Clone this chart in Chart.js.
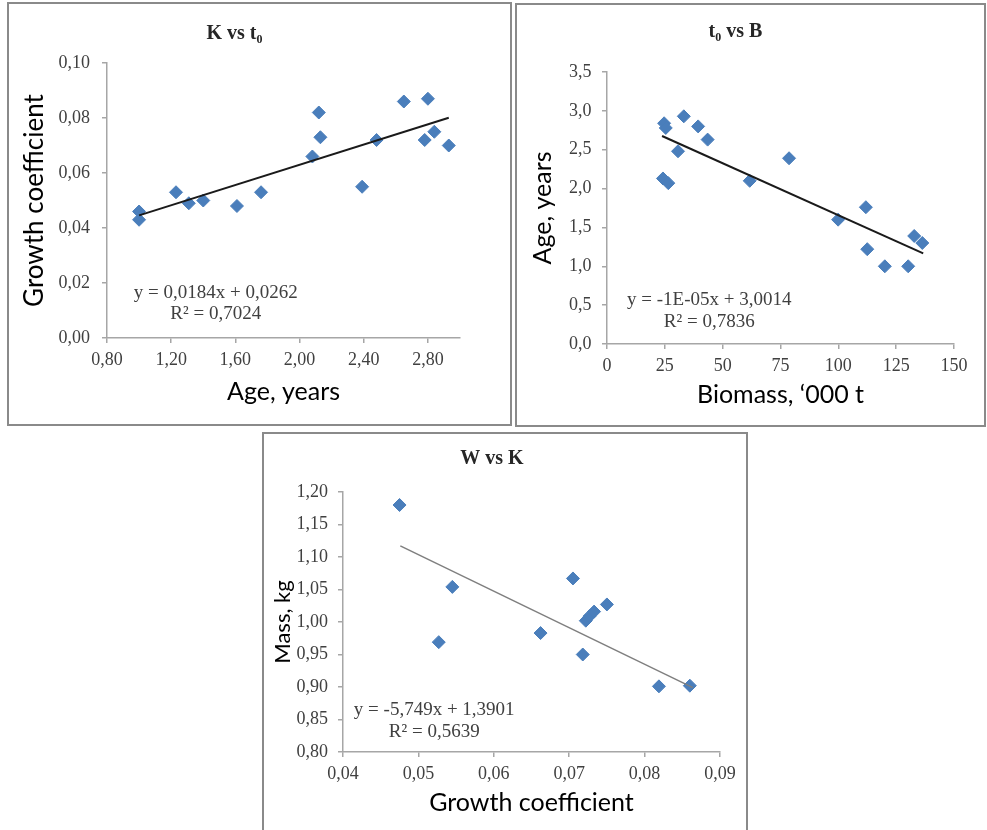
<!DOCTYPE html>
<html>
<head>
<meta charset="utf-8">
<script src="https://cdn.jsdelivr.net/npm/chart.js@4.4.0/dist/chart.umd.min.js"></script>
<style>
  body { margin: 0; background: #fff; width: 987px; height: 830px; overflow: hidden; position: relative; }
  .panel { position: absolute; box-sizing: border-box; border: 2px solid #8a8a8a; background: #fff; }
  .panel canvas { display: block; }
</style>
</head>
<body>
<div class="panel" style="left:7px;top:2px;width:505px;height:424px"><canvas id="k_chart" width="501" height="420"></canvas></div>
<div class="panel" style="left:515px;top:3px;width:471px;height:424px"><canvas id="t_chart" width="467" height="420"></canvas></div>
<div class="panel" style="left:262px;top:432px;width:486px;height:400px"><canvas id="w_chart" width="482" height="396"></canvas></div>

<script>
// K vs t0
const age_k = [1.00, 1.00, 1.23, 1.31, 1.40, 1.61, 1.76, 2.08, 2.12, 2.13, 2.39, 2.48, 2.65, 2.80, 2.78, 2.84, 2.93];
const k_vals = [0.046, 0.043, 0.053, 0.049, 0.050, 0.048, 0.053, 0.066, 0.082, 0.073, 0.055, 0.072, 0.086, 0.087, 0.072, 0.075, 0.070];
const k_trend_x = [1.00, 2.93];
const k_trend_y = [0.0446, 0.0801];
const k_eq = ['y = 0,0184x + 0,0262', 'R² = 0,7024'];

// t0 vs B
const biomass = [24.7, 25.4, 24.2, 26.5, 30.7, 33.2, 39.4, 43.5, 61.7, 78.7, 99.9, 111.9, 112.5, 120.1, 130.2, 132.8, 136.3];
const age_t = [2.84, 2.78, 2.13, 2.07, 2.48, 2.93, 2.80, 2.63, 2.10, 2.39, 1.60, 1.76, 1.22, 1.00, 1.00, 1.39, 1.30];
const t_trend_x = [23.8, 136.7];
const t_trend_y = [2.676, 1.167];
const t_eq = ['y = -1E-05x + 3,0014', 'R² = 0,7836'];

// W vs K
const k_w = [0.0475, 0.0545, 0.0527, 0.0662, 0.0705, 0.0718, 0.0722, 0.0727, 0.0733, 0.0750, 0.0819, 0.0860];
const mass = [1.180, 1.054, 0.969, 0.983, 1.067, 0.950, 1.002, 1.009, 1.016, 1.027, 0.901, 0.902];
const w_trend_x = [0.0476, 0.0864];
const w_trend_y = [1.117, 0.899];
const w_eq = ['y = -5,749x + 1,3901', 'R² = 0,5639'];

const POINT_COLOR = '#4a7ebb';
const AXIS_COLOR = '#a6a6a6';
const TEXT_COLOR = '#404040';
const SERIF = '"Liberation Serif", "Times New Roman", serif';
const SANS = 'Lato, "Open Sans", sans-serif';

function comma(v, digits) {
    return v.toFixed(digits).replace('.', ',');
}

function pairs(xs, ys) {
    return xs.map((x, i) => ({ x: x, y: ys[i] }));
}

// draws the excel style trendline equation inside the plot
const eqPlugin = {
    id: 'eqLabel',
    afterDatasetsDraw(chart, args, opts) {
        const ctx = chart.ctx;
        ctx.save();
        ctx.font = '19px ' + SERIF;
        ctx.fillStyle = TEXT_COLOR;
        ctx.textAlign = 'center';
        ctx.textBaseline = 'middle';
        opts.lines.forEach((txt, i) => {
            ctx.fillText(txt, chart.scales.x.getPixelForValue(opts.x), chart.scales.y.getPixelForValue(opts.y[i]));
        });
        ctx.restore();
    }
};

function axis(o) {
    return {
        type: 'linear',
        min: o.min,
        max: o.max,
        ticks: {
            stepSize: o.step,
            includeBounds: false,
            autoSkip: false,
            maxRotation: 0,
            padding: o.tickPad,
            color: TEXT_COLOR,
            font: { family: SERIF, size: 18, lineHeight: 1.2 },
            callback: v => comma(v, o.digits)
        },
        grid: { drawOnChartArea: false, color: AXIS_COLOR, tickLength: 5, lineWidth: 1.5 },
        border: { color: AXIS_COLOR, width: 1.5 },
        title: {
            display: true,
            text: o.title,
            color: '#000',
            font: { family: SANS, size: o.titleSize, lineHeight: 1.2 },
            padding: o.titlePad
        },
        afterFit: o.fit
    };
}

function scatter_chart(id, o) {
    return new Chart(document.getElementById(id), {
        type: 'scatter',
        data: {
            datasets: [{
                data: pairs(o.trendX, o.trendY),
                showLine: true,
                pointRadius: 0,
                borderColor: o.trendColor,
                borderWidth: o.trendWidth
            }, {
                data: pairs(o.xs, o.ys),
                pointStyle: 'rectRot',
                pointRadius: 6.5,
                pointHoverRadius: 6.5,
                backgroundColor: POINT_COLOR,
                borderColor: POINT_COLOR,
                borderWidth: 1
            }]
        },
        options: {
            responsive: false,
            animation: false,
            devicePixelRatio: 1,
            layout: { padding: { left: 0, top: 0, bottom: 0, right: o.rightPad } },
            plugins: {
                legend: { display: false },
                tooltip: { enabled: false },
                title: {
                    display: true,
                    text: o.title,
                    color: '#262626',
                    font: { family: SERIF, size: 20, weight: 'bold', lineHeight: 1.2 },
                    padding: o.titlePad
                },
                eqLabel: o.eq
            },
            scales: { x: o.x, y: o.y }
        },
        plugins: [eqPlugin]
    });
}

scatter_chart('k_chart', {
    xs: age_k, ys: k_vals, trendX: k_trend_x, trendY: k_trend_y,
    trendColor: '#1a1a1a', trendWidth: 2,
    title: 'K vs t₀', titlePad: { top: 18, bottom: 17 },
    rightPad: 50,
    eq: { lines: k_eq, x: 1.478, y: [0.0164, 0.0087] },
    x: axis({ min: 0.8, max: 3.0, step: 0.4, digits: 2, tickPad: 6.2, title: 'Age, years', titleSize: 25,
        titlePad: { top: 0, bottom: 17 }, fit: s => { s.height = 86; } }),
    y: axis({ min: 0, max: 0.1, step: 0.02, digits: 2, tickPad: 12, title: 'Growth coefficient', titleSize: 26,
        titlePad: { top: 10.4, bottom: 0 }, fit: s => { s.width = 98; } })
});

scatter_chart('t_chart', {
    xs: biomass, ys: age_t, trendX: t_trend_x, trendY: t_trend_y,
    trendColor: '#1a1a1a', trendWidth: 2,
    title: 't₀ vs B', titlePad: { top: 15, bottom: 28 },
    rightPad: 30,
    eq: { lines: t_eq, x: 44.2, y: [0.566, 0.283] },
    x: axis({ min: 0, max: 150, step: 25, digits: 0, tickPad: 6.2, title: 'Biomass, ‘000 t', titleSize: 25,
        titlePad: { top: 0, bottom: 15 }, fit: s => { s.height = 81; } }),
    y: axis({ min: 0, max: 3.5, step: 0.5, digits: 1, tickPad: 10.6, title: 'Age, years', titleSize: 25,
        titlePad: { top: 11, bottom: 0 }, fit: s => { s.width = 90; } })
});

scatter_chart('w_chart', {
    xs: k_w, ys: mass, trendX: w_trend_x, trendY: w_trend_y,
    trendColor: '#7f7f7f', trendWidth: 1.5,
    title: 'W vs K', titlePad: { top: 13, bottom: 21 },
    rightPad: 26,
    eq: { lines: w_eq, x: 0.0521, y: [0.8643, 0.8304] },
    x: axis({ min: 0.04, max: 0.09, step: 0.01, digits: 2, tickPad: 6.2, title: 'Growth coefficient', titleSize: 25,
        titlePad: { top: 0, bottom: 12 }, fit: s => { s.height = 78; } }),
    y: axis({ min: 0.8, max: 1.2, step: 0.05, digits: 2, tickPad: 10, title: 'Mass, kg', titleSize: 22,
        titlePad: { top: 5.8, bottom: 0 }, fit: s => { s.width = 79; } })
});
</script>
</body>
</html>
